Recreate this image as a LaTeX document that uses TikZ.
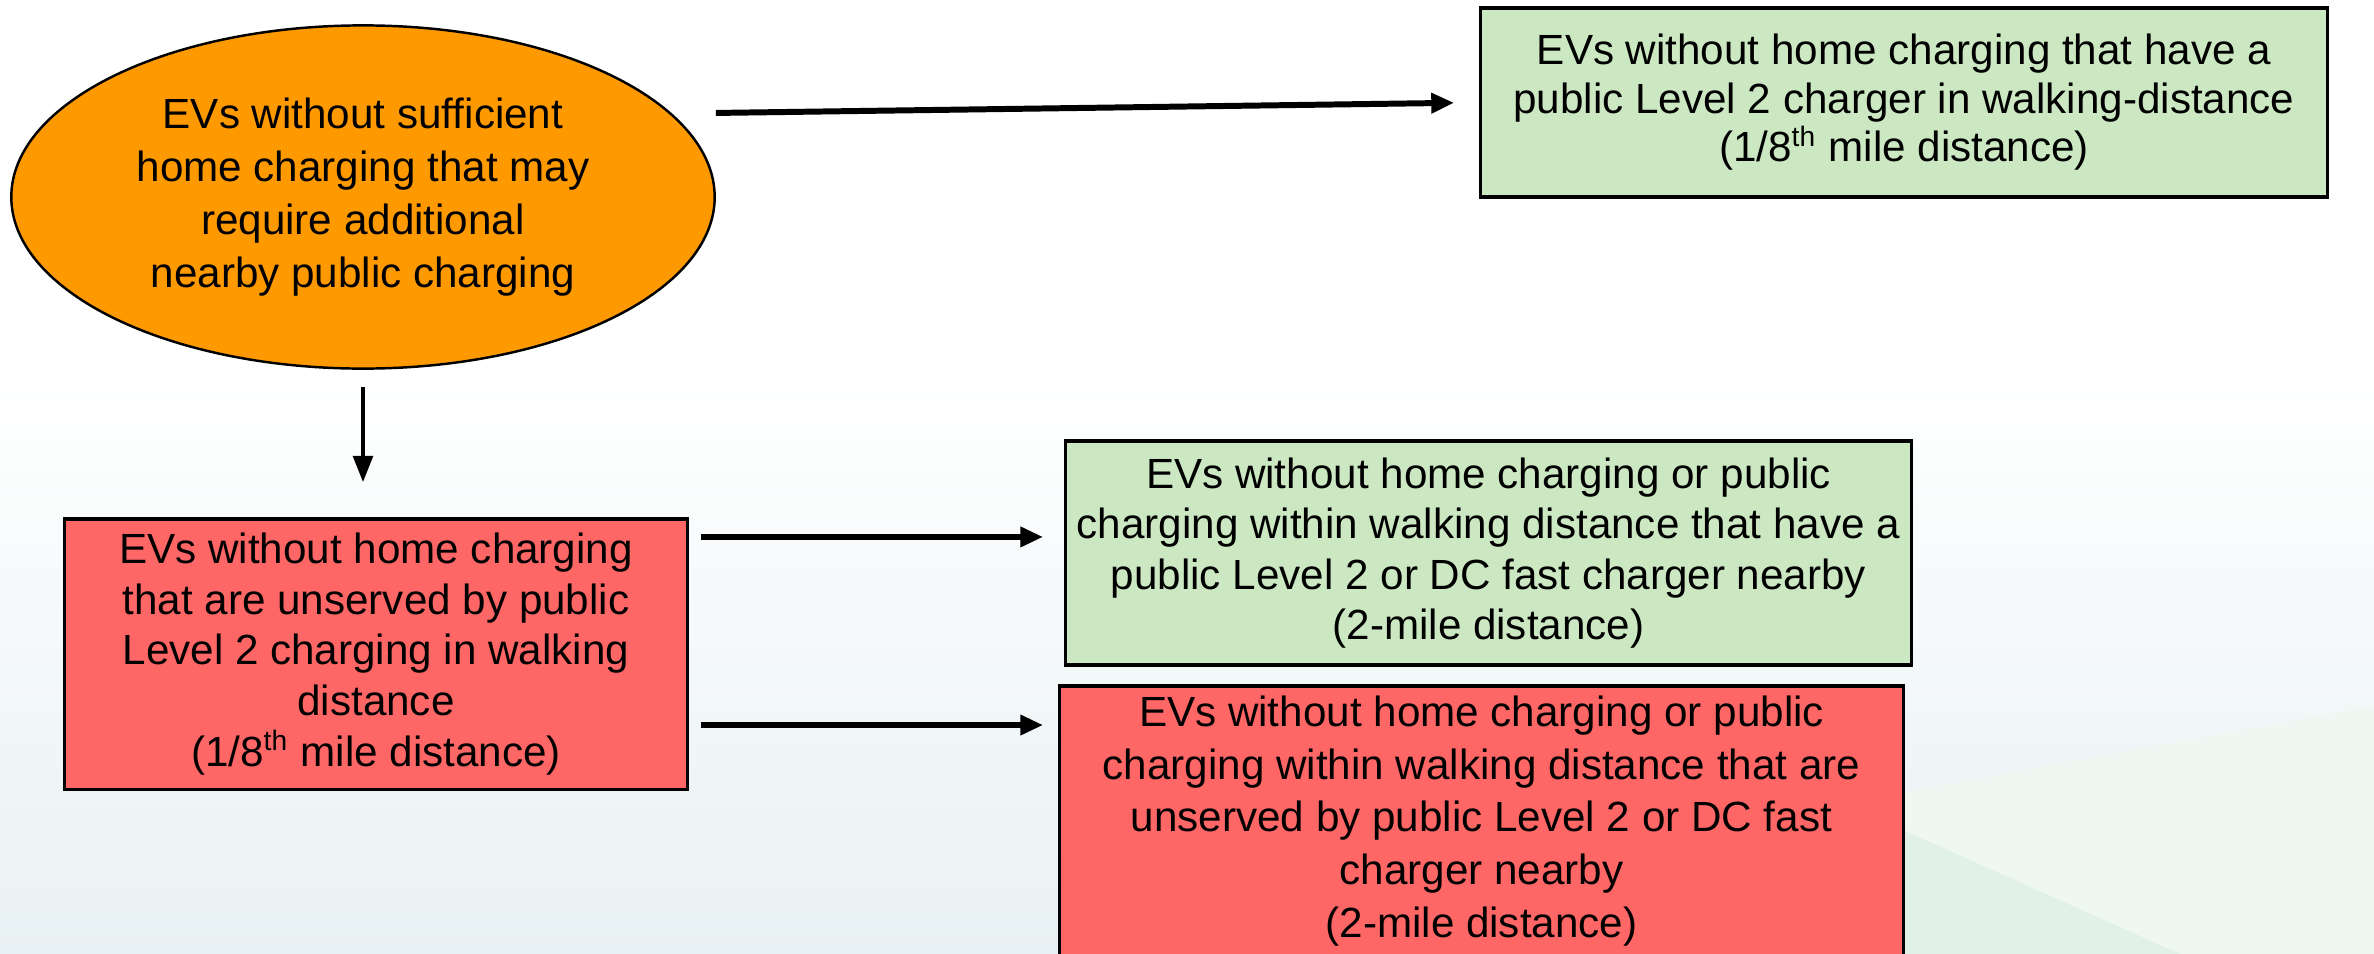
\documentclass[tikz,border=0pt]{standalone}
\usepackage{fontspec}
\setmainfont{Liberation Sans}
\usetikzlibrary{arrows.meta,shapes.geometric,calc}
\definecolor{evorange}{HTML}{FF9900}
\definecolor{evgreen}{HTML}{CCE8C2}
\definecolor{evred}{HTML}{FF6666}
\definecolor{bgblue}{HTML}{E8F1F3}
\definecolor{bggreen}{HTML}{E2F1E7}
\definecolor{bggreenlight}{HTML}{EEF7F1}
\tikzset{
  lbl/.style={font=\fontsize{12}{15.1}\selectfont, align=center, text=black},
  evbox/.style={lbl, draw=black, line width=0.9pt, rectangle, inner sep=0pt},
  greenbox/.style={evbox, fill=evgreen},
  redbox/.style={evbox, fill=evred},
  oval/.style={lbl, ellipse, draw=black, line width=0.7pt, fill=evorange, inner sep=0pt},
  flow/.style={line width=1.7pt, -{Triangle[length=6.5pt,width=5.5pt]}},
  flowdown/.style={line width=1.3pt, -{Triangle[length=7.5pt,width=5.5pt]}}
}
\begin{document}
\begin{tikzpicture}[x=0.01cm,y=-0.01cm]
\useasboundingbox (0,0) rectangle (2374,954);
\clip (0,0) rectangle (2374,954);
% background
\fill[white] (0,0) rectangle (2374,954);
\shade[top color=white, bottom color=bgblue] (0,380) rectangle (2374,954);
\fill[bggreenlight] (1903,792) -- (2374,706) -- (2374,954) -- (1903,954) -- cycle;
\fill[bggreen] (1903,830) -- (2180,954) -- (1903,954) -- cycle;
% nodes
\node[oval, minimum width=7.03cm, minimum height=3.43cm] (ell) at (363,197)
  {EVs without sufficient\\home charging that may\\require additional\\nearby public charging};
\node[greenbox, minimum width=8.46cm, minimum height=1.89cm, font=\fontsize{12}{13.8}\selectfont] (tr) at (1904,102.5)
  {EVs without home charging that have a\\public Level 2 charger in walking-distance\\(1/8\textsuperscript{th} mile distance)};
\node[redbox, minimum width=6.22cm, minimum height=2.70cm, font=\fontsize{12}{14.4}\selectfont] (lr) at (376,654)
  {EVs without home charging\\that are unserved by public\\Level 2 charging in walking\\distance\\(1/8\textsuperscript{th} mile distance)};
\node[greenbox, minimum width=8.45cm, minimum height=2.24cm, font=\fontsize{12}{14.3}\selectfont] (mg) at (1488.5,553)
  {EVs without home charging or public\\charging within walking distance that have a\\public Level 2 or DC fast charger nearby\\(2-mile distance)};
\node[redbox, minimum width=8.43cm, minimum height=2.70cm, font=\fontsize{12}{15}\selectfont] (br) at (1481.5,821)
  {EVs without home charging or public\\charging within walking distance that are\\unserved by public Level 2 or DC fast\\charger nearby\\(2-mile distance)};
% connectors
\coordinate (a1s) at ([yshift=0.84cm]ell.east);
\draw[flow, shorten >=0.25cm] (a1s) -- (tr.west);
\draw[flowdown] ([yshift=-0.17cm]ell.south) -- ([yshift=0.35cm]ell.south |- lr.north);
\coordinate (a2s) at ([xshift=0.12cm,yshift=1.17cm]lr.east);
\draw[flow, shorten >=0.21cm] (a2s) -- (a2s -| mg.west);
\coordinate (a3s) at ([xshift=0.12cm,yshift=-0.71cm]lr.east);
\draw[flow, shorten >=0.15cm] (a3s) -- (a3s -| br.west);
\end{tikzpicture}
\end{document}
